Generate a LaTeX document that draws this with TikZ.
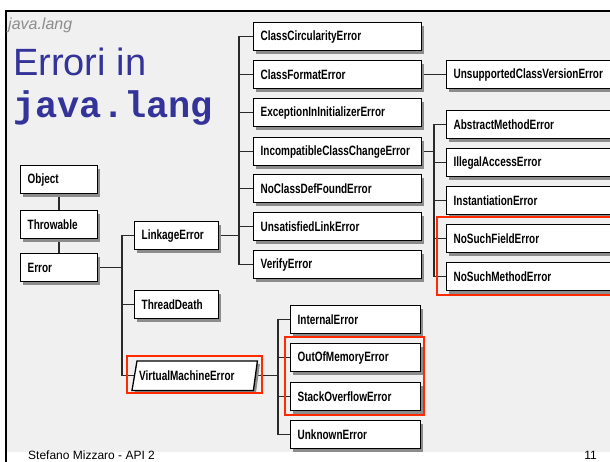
\documentclass[tikz,border=0pt]{standalone}
\usepackage{fontspec}
\setmainfont{Liberation Sans}
\newfontfamily\boxfont[FakeStretch=0.74]{Liberation Sans}
\newfontfamily\codefont{Liberation Mono}
\usetikzlibrary{shadows,backgrounds,calc}
\definecolor{bgcol}{HTML}{F0F0F0}
\definecolor{titleblue}{HTML}{333399}
\definecolor{hlred}{HTML}{FF2A00}
\definecolor{conncol}{HTML}{2A2A2A}
\hyphenpenalty=10000
\exhyphenpenalty=10000
\begin{document}
\begin{tikzpicture}[x=1pt,y=-1pt,
  ebox/.style={draw=black, fill=white, line width=1.3pt, anchor=north west,
    inner xsep=7pt, inner ysep=0pt, minimum height=28pt, text width=#1, align=left,
    font=\boxfont\bfseries\fontsize{13.5}{14}\selectfont,
    drop shadow={shadow xshift=2.5pt,shadow yshift=-3pt,fill=black!45,opacity=1}},
  vbox/.style={draw=none, fill=none, anchor=north west, inner xsep=7pt, inner ysep=0pt,
    minimum height=29pt, text width=#1, align=left,
    font=\boxfont\bfseries\fontsize{13.5}{14}\selectfont},
  conn/.style={draw=conncol, line width=1.2pt},
  hl/.style={draw=hlred, line width=2pt},
  txt/.style={anchor=base west, inner sep=0pt}
]
\useasboundingbox (0,0) rectangle (610,462);
\clip (0,0) rectangle (610,462);

% titles
\node[txt, text=black!45, font=\itshape\fontsize{16}{18}\selectfont] (hdr) at (8,30) {java.lang};
\node[txt, text=titleblue, font=\fontsize{38}{40}\selectfont] (t1) at (13,76) {Errori in};
\node[txt, text=titleblue, font=\codefont\bfseries\fontsize{37}{40}\selectfont] (t2) at (13,118) {java.lang};

% left column
\node[ebox=63pt] (obj) at (20,165) {Object};
\node[ebox=63pt] (thr) at (20,210) {Throwable};
\node[ebox=63pt] (err) at (20,253) {Error};

% second column
\node[ebox=70pt] (lnk) at (134,221) {LinkageError};
\node[ebox=70pt] (thd) at (134,290) {ThreadDeath};
\node[vbox=111pt] (vme) at (132,361) {VirtualMachineError};

% linkage children
\node[ebox=154pt] (cce) at (253,22) {ClassCircularityError};
\node[ebox=154pt] (cfe) at (253,60) {ClassFormatError};
\node[ebox=154pt] (eie) at (253,98) {ExceptionInInitializerError};
\node[ebox=154pt] (icce) at (253,137) {IncompatibleClassChangeError};
\node[ebox=154pt] (ncdf) at (253,174) {NoClassDefFoundError};
\node[ebox=154pt] (ule) at (253,212) {UnsatisfiedLinkError};
\node[ebox=154pt] (ver) at (253,250) {VerifyError};

% right column
\node[ebox=190pt] (ucve) at (446,60) {UnsupportedClassVersionError};
\node[ebox=190pt] (ame) at (446,110) {AbstractMethodError};
\node[ebox=190pt] (iae) at (446,148) {IllegalAccessError};
\node[ebox=190pt] (inse) at (446,186) {InstantiationError};
\node[ebox=190pt] (nsfe) at (446,224) {NoSuchFieldError};
\node[ebox=190pt] (nsme) at (446,262) {NoSuchMethodError};

% VM children
\node[ebox=116pt] (inte) at (290,305) {InternalError};
\node[ebox=116pt] (oom) at (290,343) {OutOfMemoryError};
\node[ebox=116pt] (soe) at (290,382) {StackOverflowError};
\node[ebox=116pt] (unk) at (290,420) {UnknownError};

% footer
\node[txt, font=\fontsize{12}{14}\selectfont] (ft) at (28,459) {Stefano Mizzaro - API 2};
\node[anchor=base east, inner sep=0pt, font=\fontsize{12}{14}\selectfont] (pg) at (597,459) {11};

% highlights
\draw[hl] ([xshift=-9pt,yshift=7pt]nsfe.north west) rectangle ([xshift=40pt,yshift=-4pt]nsme.south east);
\draw[hl] ([xshift=-5pt,yshift=6pt]oom.north west) rectangle ([xshift=3pt,yshift=-4pt]soe.south east);
\draw[hl] ([xshift=-5pt,yshift=5pt]vme.north west) rectangle ([xshift=5pt,yshift=-3pt]vme.south east);

\begin{scope}[on background layer]
  \fill[white] (0,0) rectangle (610,462);
  \fill[bgcol] (6,11) rectangle (610,452);
  \draw[black, line width=2pt] (6,462) -- (6,11) -- (610,11);

  \coordinate (busA) at (122,0);
  \coordinate (busB) at (239,0);
  \coordinate (busC) at (434,0);
  \coordinate (busD) at (278,0);

  \draw[conncol, line width=2.6pt] (obj.south) -- (err.north);

  \draw[conn] (err.east) -- (err.east -| busA);
  \draw[conn] (lnk.west) -| (busA |- vme.west) -- ([xshift=2.5pt]vme.west);
  \draw[conn] (thd.west) -- (thd.west -| busA);

  \draw[conn] (lnk.east) -- (lnk.east -| busB);
  \draw[conn] (cce.west) -| (busB |- ver.west) -- (ver.west);
  \foreach \n in {cfe,eie,icce,ncdf,ule}
    \draw[conn] (\n.west) -- (\n.west -| busB);

  \draw[conn] (cfe.east) -- (ucve.west);
  \draw[conn] (icce.east) -- (icce.east -| busC);
  \draw[conn] (ame.west) -| (busC |- nsme.west) -- (nsme.west);
  \foreach \n in {iae,inse,nsfe}
    \draw[conn] (\n.west) -- (\n.west -| busC);

  \draw[conn] ([xshift=-2pt]vme.east) -- (vme.east -| busD);
  \draw[conn] (inte.west) -| (busD |- unk.west) -- (unk.west);
  \foreach \n in {oom,soe}
    \draw[conn] (\n.west) -- (\n.west -| busD);

  \draw[black, line width=1.3pt, fill=white,
    drop shadow={shadow xshift=2.5pt,shadow yshift=-3pt,fill=black!45,opacity=1}]
    (vme.south west) -- ([xshift=5pt]vme.north west) -- (vme.north east)
    -- ([xshift=-4pt]vme.south east) -- cycle;
\end{scope}
\end{tikzpicture}
\end{document}
